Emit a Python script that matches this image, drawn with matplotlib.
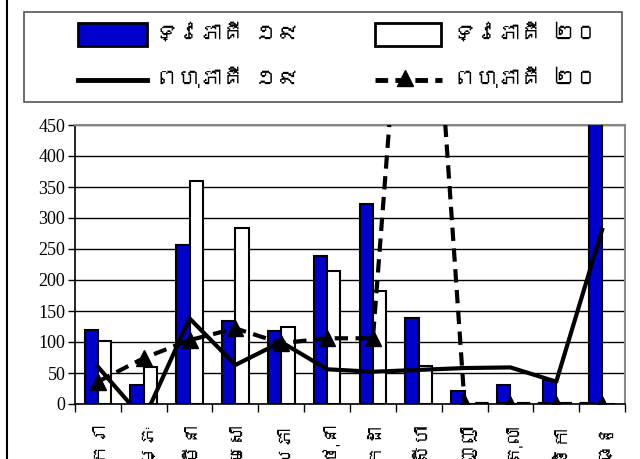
import matplotlib
matplotlib.use("Agg")
import matplotlib.pyplot as plt
from matplotlib import font_manager
import numpy as np
from matplotlib.patches import Rectangle
from matplotlib.lines import Line2D

months = ["មករា", "កុម្ភៈ", "មីនា", "មេសា", "ឧសភា", "មិថុនា",
          "កក្កដា", "សីហា", "កញ្ញា", "តុលា", "វិច្ឆិកា", "ធ្នូ"]
bars19 = [119, 31, 256, 134, 118, 239, 322, 138, 21, 31, 38, 600]
bars20 = [102, 60, 360, 284, 125, 214, 183, 61, 0, 0, 0, 0]
line19 = [60, -25, 138, 63, 100, 56, 52, 55, 58, 59, 36, 281]
line20 = [36, 74, 103, 122, 98, 106, 106, 1070, 0, 0, 0, 0]
yticks = [0, 50, 100, 150, 200, 250, 300, 350, 400, 450]

lab_b19 = "ទ្វេភាគី ១៩"
lab_b20 = "ទ្វេភាគី ២០"
lab_l19 = "ពហុភាគី ១៩"
lab_l20 = "ពហុភាគី ២០"

# find any installed family that has Khmer glyphs
khmer_fams = []
try:
    from fontTools.ttLib import TTFont
    for fe in font_manager.fontManager.ttflist:
        if fe.name in khmer_fams:
            continue
        try:
            f = TTFont(fe.fname, fontNumber=0, lazy=True)
            cmap = f.getBestCmap() or {}
            if 0x1780 in cmap and 0x17E1 in cmap:
                khmer_fams.append(fe.name)
        except Exception:
            pass
except Exception:
    pass

kfont = khmer_fams + ["DejaVu Sans"]

W, H = 640, 459
fig = plt.figure(figsize=(6.4, 4.59), dpi=100)
ax = fig.add_axes([75/W, 1-404/H, 550/W, 279/H])

x = np.arange(len(months))
w = 0.29
dash = (0, (3.2, 1.8))
ax.bar(x - w/2, bars19, width=w, color="#0000CC", edgecolor="black", linewidth=1.5, zorder=3)
ax.bar(x + w/2, bars20, width=w, color="white", edgecolor="black", linewidth=1.5, zorder=3)
ax.plot(x, line19, color="black", linewidth=3, zorder=4)
ax.plot(x, line20, color="black", linewidth=3, linestyle=dash, marker="^",
        markersize=12, zorder=5)

ax.set_xlim(-0.5, len(months) - 0.5)
ax.set_ylim(0, 450)
ax.set_yticks(yticks)
ax.set_yticklabels([str(v) for v in yticks], fontfamily="Liberation Serif", fontsize=13)
ax.yaxis.grid(True, color="black", linewidth=1, zorder=0)
ax.set_axisbelow(True)
ax.tick_params(axis="y", direction="out", length=5, width=1, pad=2)

ax.set_xticks(x)
ax.set_xticklabels(months, rotation=90, fontsize=14, family=kfont, va="top")
ax.set_xticks(np.arange(-0.5, len(months)), minor=True)
ax.tick_params(axis="x", which="major", length=0, pad=12)
ax.tick_params(axis="x", which="minor", direction="out", length=6, width=1)

for s in ["left", "bottom"]:
    ax.spines[s].set_color("black")
    ax.spines[s].set_linewidth(1.2)
for s in ["top", "right"]:
    ax.spines[s].set_color("#888888")
    ax.spines[s].set_linewidth(1.5)

# legend (drawn in pixel coordinates of the figure)
def fx(px):
    return px / W

def fy(py):
    return 1 - py / H

tf = fig.transFigure
fig.add_artist(Rectangle((fx(24), fy(102)), 598/W, 90/H, transform=tf,
                         facecolor="white", edgecolor="#555555", linewidth=1.2))
fig.add_artist(Rectangle((fx(78), fy(46)), 69/W, 23/H, transform=tf,
                         facecolor="#0000CC", edgecolor="black", linewidth=2))
fig.add_artist(Rectangle((fx(375), fy(46)), 66/W, 23/H, transform=tf,
                         facecolor="white", edgecolor="black", linewidth=2))
fig.add_artist(Line2D([fx(78), fx(147)], [fy(80), fy(80)], transform=tf,
                      color="black", linewidth=3.5))
fig.add_artist(Line2D([fx(375), fx(442)], [fy(80), fy(80)], transform=tf,
                      color="black", linewidth=3.5, linestyle=(0, (2.6, 1.5))))
fig.add_artist(Line2D([fx(405)], [fy(78)], transform=tf, color="black",
                      marker="^", markersize=12, linestyle="none"))
for px, py, t in [(155, 33, lab_b19), (453, 33, lab_b20),
                  (155, 77, lab_l19), (453, 77, lab_l20)]:
    fig.text(fx(px), fy(py), t, family=kfont, fontsize=16, ha="left", va="center")

fig.add_artist(Line2D([fx(7), fx(7)], [0, 1], color="black", linewidth=1.5, transform=tf))

fig.savefig("out.png", dpi=100)
